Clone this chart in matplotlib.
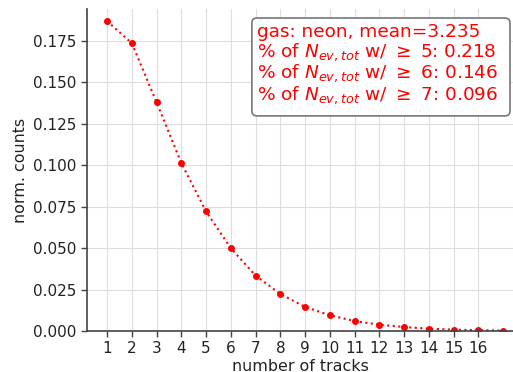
import matplotlib
matplotlib.use('Agg')
import matplotlib.pyplot as plt
from matplotlib.patches import FancyBboxPatch
import numpy as np

# normalized track multiplicity for neon
n_tracks = np.arange(1, 18)
norm_counts = [0.1867, 0.1734, 0.1378, 0.1012, 0.0720, 0.0499, 0.0334, 0.0223,
               0.0145, 0.0095, 0.0060, 0.0038, 0.0024, 0.0014, 0.0008, 0.0005,
               0.0003]
tick_positions = list(range(1, 17))

gas = 'neon'
mean_tracks = 3.235
thresholds = [5, 6, 7]
frac_above = [0.218, 0.146, 0.096]


def make_plot():
    fig = plt.figure(figsize=(5.13, 3.72), dpi=100)
    ax = fig.add_axes([0.1696, 0.1102, 0.8304, 0.8656])

    ax.plot(n_tracks, norm_counts, ls=':', marker='o', color='red',
            markersize=4, lw=1.5)

    ax.set_xlim(0.19, 17.4)
    ax.set_ylim(0.0, 0.194)
    ax.set_xticks(tick_positions)
    ax.set_yticks(np.arange(0, 0.19, 0.025))
    ax.yaxis.set_major_formatter(matplotlib.ticker.FormatStrFormatter('%.3f'))

    ax.grid(True, color='#dddddd', lw=0.8)
    ax.set_axisbelow(True)
    for side in ['top', 'right']:
        ax.spines[side].set_visible(False)
    for side in ['left', 'bottom']:
        ax.spines[side].set_color('#444444')
        ax.spines[side].set_linewidth(1.2)
    ax.tick_params(labelsize=11, colors='#222222', length=4, width=1.0)
    ax.tick_params(axis='both', color='#444444')

    ax.set_xlabel('number of tracks', fontsize=11.4, color='#222222', labelpad=2)
    ax.set_ylabel('norm. counts', fontsize=11.4, color='#222222')

    # info box, drawn as a separate frame so the padding can be uneven
    box = FancyBboxPatch((0.387, 0.668), 0.606, 0.304,
                         boxstyle='round,pad=0,rounding_size=0.012',
                         mutation_aspect=1.32, transform=ax.transAxes,
                         fc='white', ec='#777777', lw=1.2, zorder=4)
    ax.add_patch(box)

    lines = ['gas: {}, mean={:.3f}'.format(gas, mean_tracks)]
    for t, f in zip(thresholds, frac_above):
        lines.append(r'% of $N_{ev,tot}$ w/ $\geq$ ' + '{}: {:.3f}'.format(t, f))
    ax.text(0.40, 0.956, '\n'.join(lines), transform=ax.transAxes,
            ha='left', va='top', color='red', fontsize=13.3,
            linespacing=1.0, zorder=5)

    fig.savefig('out.png', dpi=100)


def main():
    make_plot()


if __name__ == '__main__':
    main()
